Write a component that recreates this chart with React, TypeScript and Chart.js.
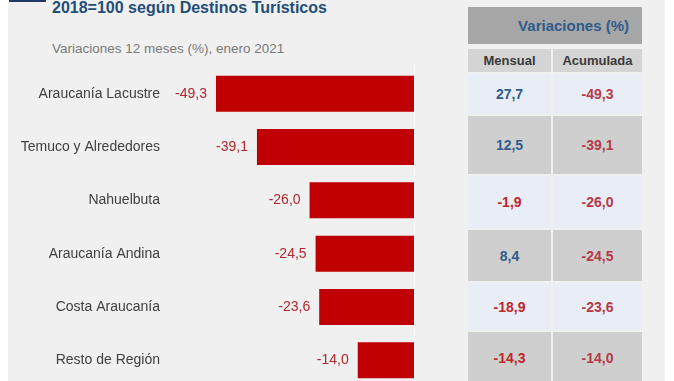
import React, { useEffect, useRef } from "react";
import { Chart, registerables } from "chart.js";

Chart.register(...registerables);

// ---- Data ----
const categories = [
  "Araucanía Lacustre",
  "Temuco y Alrededores",
  "Nahuelbuta",
  "Araucanía Andina",
  "Costa Araucanía",
  "Resto de Región",
];
const variacion12Meses = [-49.3, -39.1, -26.0, -24.5, -23.6, -14.0];
const variacionMensual = [27.7, 12.5, -1.9, 8.4, -18.9, -14.3];
const variacionAcumulada = [-49.3, -39.1, -26.0, -24.5, -23.6, -14.0];
const axisMin = -60;
const axisMax = 0;

const titleText = "2018=100 según Destinos Turísticos";
const subtitleText = "Variaciones 12 meses (%), enero 2021";
const tableTitle = "Variaciones (%)";
const tableColumns = ["Mensual", "Acumulada"];

// ---- Layout / style (not data) ----
const FONT = '"Liberation Sans", Arial, sans-serif';
const rowTops = [74, 116, 176, 230, 283, 332];
const rowHeights = [40, 58, 52, 51, 47, 52];
const colLeft = [468, 553];
const colWidth = [83, 89];

const fmt = (v: number) => v.toFixed(1).replace(".", ",");

export default function App() {
  const canvasRef = useRef<HTMLCanvasElement | null>(null);

  useEffect(() => {
    if (!canvasRef.current) return;

    const valueLabels = {
      id: "valueLabels",
      afterDatasetsDraw(chart: any) {
        const ctx = chart.ctx;
        const meta = chart.getDatasetMeta(0);
        ctx.save();
        ctx.font = `14px ${FONT}`;
        ctx.fillStyle = "#b0282c";
        ctx.textAlign = "right";
        ctx.textBaseline = "middle";
        meta.data.forEach((bar: any, i: number) => {
          ctx.fillText(fmt(variacion12Meses[i]), bar.x - 9, bar.y);
        });
        ctx.restore();
      },
    };

    const zeroLine = {
      id: "zeroLine",
      beforeDatasetsDraw(chart: any) {
        const ctx = chart.ctx;
        const x = Math.round(chart.scales.x.getPixelForValue(0)) + 0.5;
        ctx.save();
        ctx.strokeStyle = "#f9f9f9";
        ctx.lineWidth = 1;
        ctx.beginPath();
        ctx.moveTo(x, 5);
        ctx.lineTo(x, chart.height);
        ctx.stroke();
        ctx.restore();
      },
    };

    const chart = new Chart(canvasRef.current, {
      type: "bar",
      data: {
        labels: categories,
        datasets: [
          {
            data: variacion12Meses,
            backgroundColor: "#c00000",
            borderWidth: 0,
            barPercentage: 0.675,
            categoryPercentage: 1,
          },
        ],
      },
      options: {
        indexAxis: "y",
        animation: false,
        responsive: false,
        maintainAspectRatio: false,
        layout: { padding: { top: 7, bottom: 1, right: 14, left: 0 } },
        plugins: {
          legend: { display: false },
          tooltip: { enabled: false },
        },
        scales: {
          x: { display: false, min: axisMin, max: axisMax },
          y: {
            grid: { display: false, drawTicks: false },
            border: { display: false },
            ticks: {
              color: "#404040",
              font: { family: FONT, size: 14 },
              padding: 13,
            },
            afterFit: (scale: any) => {
              scale.width = 165;
              scale.paddingTop = 0;
              scale.paddingBottom = 0;
            },
          },
        },
      },
      plugins: [valueLabels, zeroLine],
    } as any);

    return () => chart.destroy();
  }, []);

  const cellBase: React.CSSProperties = {
    position: "absolute",
    display: "flex",
    alignItems: "center",
    justifyContent: "center",
    fontFamily: FONT,
    fontWeight: "bold",
    fontSize: 14,
  };

  return (
    <div
      style={{
        position: "fixed",
        left: 0,
        top: 0,
        width: 674,
        height: 381,
        overflow: "hidden",
        background: "#ffffff",
      }}
    >
      {/* grey panel */}
      <div
        style={{
          position: "absolute",
          left: 8,
          top: 0,
          width: 657,
          height: 381,
          background: "#f0f0f0",
        }}
      />
      {/* blue accent */}
      <div
        style={{
          position: "absolute",
          left: 9,
          top: 0,
          width: 37,
          height: 2,
          background: "#1f3864",
        }}
      />
      <div
        style={{
          position: "absolute",
          left: 52,
          top: -1,
          fontFamily: FONT,
          fontWeight: "bold",
          fontSize: 16,
          color: "#1f4e79",
          whiteSpace: "nowrap",
        }}
      >
        {titleText}
      </div>
      <div
        style={{
          position: "absolute",
          left: 52,
          top: 41,
          fontFamily: FONT,
          fontSize: 13.5,
          color: "#7a7a7a",
          whiteSpace: "nowrap",
        }}
      >
        {subtitleText}
      </div>

      <canvas
        ref={canvasRef}
        width={420}
        height={328}
        style={{ position: "absolute", left: 8, top: 60, width: 420, height: 328 }}
      />

      {/* table header */}
      <div
        style={{
          ...cellBase,
          left: 468,
          top: 7,
          width: 174,
          height: 37,
          justifyContent: "flex-end",
          paddingRight: 13,
          boxSizing: "border-box",
          background: "#a6a6a6",
          color: "#2e5c8a",
          fontSize: 15,
        }}
      >
        {tableTitle}
      </div>
      {tableColumns.map((c, j) => (
        <div
          key={c}
          style={{
            ...cellBase,
            left: colLeft[j],
            top: 49,
            width: colWidth[j],
            height: 23,
            background: "#d4d4d4",
            color: "#3a3a3a",
            fontSize: 13,
          }}
        >
          {c}
        </div>
      ))}
      {categories.map((cat, i) => {
        const bg = i % 2 === 0 ? "#e9edf5" : "#d0cfcf";
        const m = variacionMensual[i];
        const a = variacionAcumulada[i];
        return (
          <React.Fragment key={cat}>
            <div
              style={{
                ...cellBase,
                left: colLeft[0],
                top: rowTops[i],
                width: colWidth[0],
                height: rowHeights[i],
                background: bg,
                color: m >= 0 ? "#2e5d8c" : "#c0262c",
              }}
            >
              {fmt(m)}
            </div>
            <div
              style={{
                ...cellBase,
                left: colLeft[1],
                top: rowTops[i],
                width: colWidth[1],
                height: rowHeights[i],
                background: bg,
                color: a >= 0 ? "#2e5d8c" : "#b43a4a",
              }}
            >
              {fmt(a)}
            </div>
          </React.Fragment>
        );
      })}
    </div>
  );
}
